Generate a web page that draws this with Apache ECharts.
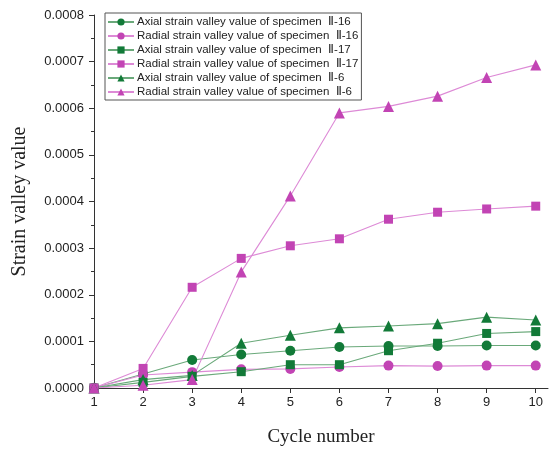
<!DOCTYPE html>
<html><head><meta charset="utf-8">
<script src="https://cdn.jsdelivr.net/npm/echarts@6/dist/echarts.min.js"></script>
<style>html,body{margin:0;padding:0;background:#fff}#c{width:560px;height:452px}</style>
</head><body><div id="c"></div>
<script>
var cycles = [1,2,3,4,5,6,7,8,9,10];
var xTicks = [1,2,3,4,5,6,7,8,9,10];
var yTicks = [0,0.0001,0.0002,0.0003,0.0004,0.0005,0.0006,0.0007,0.0008];
var seriesNames = [
  'Axial strain valley value of specimen  \u2161-16',
  'Radial strain valley value of specimen  \u2161-16',
  'Axial strain valley value of specimen  \u2161-17',
  'Radial strain valley value of specimen  \u2161-17',
  'Axial strain valley value of specimen  \u2161-6',
  'Radial strain valley value of specimen  \u2161-6'
];
var axial16  = [0, 0.000030, 0.000060, 0.000072, 0.000080, 0.000088, 0.000090, 0.000090, 0.000091, 0.000091];
var radial16 = [0, 0.000028, 0.000034, 0.000040, 0.000041, 0.000045, 0.000048, 0.000047, 0.000048, 0.000048];
var axial17  = [0, 0.000012, 0.000025, 0.000035, 0.000050, 0.000050, 0.000080, 0.000096, 0.000117, 0.000121];
var radial17 = [0, 0.000042, 0.000216, 0.000278, 0.000305, 0.000320, 0.000362, 0.000377, 0.000384, 0.000390];
var axial6   = [0, 0.000018, 0.000027, 0.000096, 0.000113, 0.000129, 0.000133, 0.000138, 0.000152, 0.000146];
var radial6  = [0, 0.000006, 0.000018, 0.000249, 0.000412, 0.000590, 0.000604, 0.000626, 0.000666, 0.000693];

var valuesList = [axial16, radial16, axial17, radial17, axial6, radial6];
var symbols = ['circle','circle','rect','rect','triangle','triangle'];
var sizes = [10,10,9,9,11,11];
var GREEN = '#127a38', GREEN_L = '#6aa97a', PINK = '#c244b4', PINK_L = '#dd8ad6';

var series = valuesList.map(function(vals, i){
  var green = (i % 2 === 0);
  return {
    name: seriesNames[i], type: 'line',
    data: cycles.map(function(c, k){ return [c, vals[k]]; }),
    symbol: symbols[i], symbolSize: sizes[i],
    itemStyle: { color: green ? GREEN : PINK },
    lineStyle: { color: green ? GREEN_L : PINK_L, width: 1.1 },
    emphasis: { disabled: true },
    animation: false
  };
});

var chart = echarts.init(document.getElementById('c'), null, {renderer: 'canvas'});
chart.setOption({
  animation: false,
  backgroundColor: '#fff',
  grid: { left: 94, right: 12, top: 15, bottom: 63, containLabel: false },
  legend: {
    left: 105, top: 13, orient: 'vertical',
    backgroundColor: '#fff', borderColor: '#555', borderWidth: 1,
    padding: [3, 3, 2, 2], itemGap: 2, itemWidth: 26, itemHeight: 9,
    textStyle: { fontFamily: 'Liberation Sans, Arial, sans-serif', fontSize: 11.5, color: '#222', lineHeight: 12, padding: [0, 0, 0, -2] },
    data: seriesNames
  },
  xAxis: {
    type: 'value', min: 1, max: 10.25, interval: 1,
    name: 'Cycle number', nameLocation: 'middle', nameGap: 40,
    nameTextStyle: { fontFamily: 'Liberation Serif, Times New Roman, serif', fontSize: 19, color: '#222' },
    axisLine: { show: true, onZero: false, lineStyle: { color: '#333', width: 1 } },
    axisTick: { show: true, inside: false, length: 5, customValues: xTicks, lineStyle: { color: '#333' } },
    axisLabel: { customValues: xTicks, margin: 8, fontFamily: 'Liberation Sans, Arial, sans-serif', fontSize: 13, color: '#222',
      formatter: function(v){ return (Math.abs(v - Math.round(v)) < 1e-9) ? String(Math.round(v)) : ''; } },
    splitLine: { show: false }
  },
  yAxis: {
    type: 'value', min: 0, max: 0.0008, interval: 0.0001,
    name: 'Strain valley value', nameLocation: 'middle', nameGap: 64, nameRotate: 90,
    nameTextStyle: { fontFamily: 'Liberation Serif, Times New Roman, serif', fontSize: 20, color: '#222' },
    axisLine: { show: true, lineStyle: { color: '#333', width: 1 } },
    axisTick: { show: true, inside: false, length: 5, lineStyle: { color: '#333' } },
    minorTick: { show: true, splitNumber: 2, length: 3, lineStyle: { color: '#333' } },
    axisLabel: { margin: 10, fontFamily: 'Liberation Sans, Arial, sans-serif', fontSize: 13, color: '#222',
      formatter: function(v){ return v.toFixed(4); } },
    splitLine: { show: false }
  },
  series: series
});
</script>
</body></html>
